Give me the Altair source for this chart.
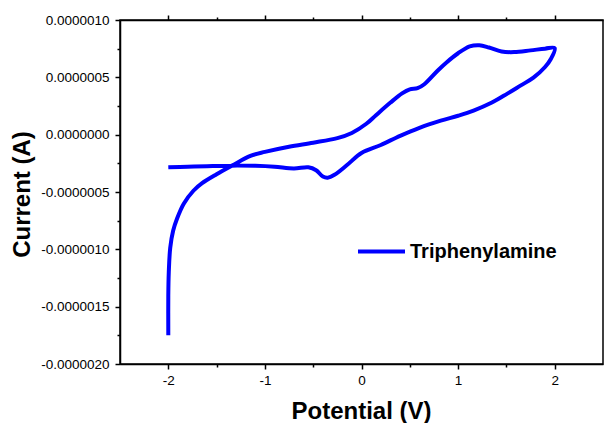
import altair as alt
import pandas as pd

# Cyclic voltammogram of Triphenylamine (path order)
potential = [
    -2.00, -1.80, -1.60, -1.34, -1.10, -0.90, -0.70, -0.55, -0.47, -0.40,
    -0.35, -0.28, -0.15, 0.00, 0.20, 0.40, 0.60, 0.82, 1.00, 1.16,
    1.35, 1.51, 1.65, 1.78, 1.90, 1.96, 2.00,
    1.90, 1.75, 1.58, 1.45, 1.32, 1.22, 1.12, 1.00, 0.88, 0.79,
    0.65, 0.58, 0.50, 0.42, 0.30, 0.15, 0.05, -0.10, -0.25, -0.50,
    -0.75, -1.00, -1.15, -1.34, -1.50, -1.65, -1.74, -1.84, -1.91, -1.95,
    -1.98, -1.995, -2.00, -2.00,
]
current_e7 = [
    -2.85, -2.80, -2.75, -2.70, -2.72, -2.80, -2.95, -2.85, -3.10, -3.65,
    -3.75, -3.50, -2.65, -1.60, -0.90, -0.10, 0.60, 1.22, 1.65, 2.10,
    2.80, 3.58, 4.30, 4.97, 5.90, 6.60, 7.55,
    7.50, 7.35, 7.20, 7.25, 7.60, 7.80, 7.70, 7.10, 6.30, 5.60,
    4.40, 4.05, 3.95, 3.60, 2.80, 1.70, 0.95, 0.15, -0.30, -0.70,
    -1.05, -1.50, -1.85, -2.70, -3.45, -4.23, -4.89, -6.02, -7.33, -8.38,
    -9.86, -12.0, -14.0, -17.5,
]
series_name = "Triphenylamine"
x_ticks = [-2, -1.5, -1, -0.5, 0, 0.5, 1, 1.5, 2]
y_ticks = [-2e-6, -1.75e-6, -1.5e-6, -1.25e-6, -1e-6, -7.5e-7, -5e-7, -2.5e-7,
           0, 2.5e-7, 5e-7, 7.5e-7, 1e-6]

df = pd.DataFrame({
    "idx": list(range(len(potential))),
    "Potential": potential,
    "Current": [v * 1e-7 for v in current_e7],
    "series": [series_name] * len(potential),
})

FONT = "Liberation Sans"
x_minor = "datum.value % 1 !== 0"
y_minor = "round(datum.value*1e8) % 50 !== 0"

x_scale = alt.Scale(domain=[-2.5, 2.5], nice=False, zero=False)
y_scale = alt.Scale(domain=[-2e-6, 1e-6], nice=False, zero=False)

x_axis = alt.Axis(
    values=x_ticks, orient="bottom", grid=False,
    tickSize={"condition": {"test": x_minor, "value": 3}, "value": 5},
    labelExpr=f"{x_minor} ? '' : (datum.value < 0 ? '-' : '') + format(abs(datum.value), 'd')",
    labelPadding=4, labelFont=FONT, labelFontSize=13.5, labelColor="black",
    title="Potential (V)", titleFont=FONT, titleFontSize=24, titleFontWeight="bold",
    titleColor="black", titleX=241, titleY=47, titleBaseline="middle", titleAnchor="middle",
    domainColor="black", domainWidth=1.5, tickColor="black", tickWidth=1.5,
)
y_axis = alt.Axis(
    values=y_ticks, orient="left", grid=False,
    tickSize={"condition": {"test": y_minor, "value": 3}, "value": 5},
    labelExpr=f"{y_minor} ? '' : (datum.value < 0 ? '-' : '') + format(abs(datum.value), '.7f')",
    labelPadding=6, labelFont=FONT, labelFontSize=13.5, labelColor="black",
    title="Current (A)", titleFont=FONT, titleFontSize=24, titleFontWeight="bold",
    titleColor="black", titleX=-98, titleY=174, titleBaseline="middle", titleAnchor="middle",
    domainColor="black", domainWidth=1.5, tickColor="black", tickWidth=1.5,
)
x_top_axis = alt.Axis(
    values=x_ticks, orient="top", grid=False, labels=False, title=None,
    tickSize={"condition": {"test": x_minor, "value": 3}, "value": 5},
    domainColor="black", domainWidth=1.5, tickColor="black", tickWidth=1.5,
)

main = alt.Chart(df).mark_line(strokeWidth=4, interpolate="catmull-rom").encode(
    x=alt.X("Potential:Q", scale=x_scale, axis=x_axis),
    y=alt.Y("Current:Q", scale=y_scale, axis=y_axis),
    order="idx:Q",
    color=alt.Color(
        "series:N", title=None,
        scale=alt.Scale(domain=[series_name], range=["#0000ff"]),
        legend=alt.Legend(
            orient="none", legendX=236, legendY=206, symbolType="stroke",
            symbolSize=2209, symbolStrokeWidth=4, labelFont=FONT, labelFontSize=20,
            labelFontWeight="bold", labelColor="black", labelOffset=3,
        ),
    ),
)

top = alt.Chart(df).mark_line(opacity=0).encode(
    x=alt.X("Potential:Q", scale=x_scale, axis=x_top_axis),
    y=alt.Y("Current:Q", scale=y_scale, axis=None),
    order="idx:Q",
)

chart = alt.layer(main, top).resolve_axis(x="independent", y="independent").properties(
    width=483, height=344,
    padding={"left": 120, "top": 20, "right": 1, "bottom": 59},
    autosize=alt.AutoSizeParams(type="none"),
    background="white",
).configure_view(stroke="black", strokeWidth=1.5)

chart.save("out.html", embed_options={"renderer": "svg", "actions": False})
